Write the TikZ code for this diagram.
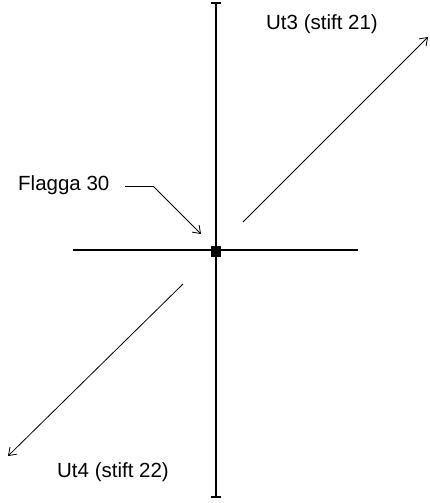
\documentclass[tikz,border=0pt]{standalone}
\usepackage{fontspec}
\setmainfont{Liberation Sans}
\usetikzlibrary{arrows.meta}
\begin{document}
\begin{tikzpicture}[x=1pt,y=-1pt,
  axis/.style={line width=1.4pt,black},
  arr/.style={line width=0.8pt,-{Straight Barb[length=7pt,width=10pt]}},
  lbl/.style={font=\fontsize{20.5}{23}\selectfont,inner sep=0pt}]
\useasboundingbox (0,0) rectangle (429,503);
\coordinate (top) at (216,3);
\coordinate (bot) at (216,497);
\coordinate (left) at (73,250);
\coordinate (right) at (358,250);
\draw[axis] (top) -- (bot);
\draw[axis] (211,3) -- (221,3);
\draw[axis] (211,497) -- (221,497);
\draw[axis] (left) -- (right);
\node[fill=black,minimum width=10pt,minimum height=11pt,inner sep=0pt] (sq) at (216,251) {};
\node[lbl,anchor=base west] (flag) at (18,190) {Flagga 30};
\coordinate (fk) at (153,186);
\coordinate (ftip) at (201,234);
\draw[line width=0.8pt] (125,186) -- (fk);
\draw[arr] (fk) -- (ftip);
\coordinate (a3s) at (243,222);
\coordinate (a3e) at (428,37);
\draw[arr] (a3s) -- (a3e);
\node[lbl,anchor=base] (ut3) at (322,30) {Ut3 (stift 21)};
\coordinate (a4s) at (183,284);
\coordinate (a4e) at (8,456);
\draw[arr] (a4s) -- (a4e);
\node[lbl,anchor=base] (ut4) at (113,477) {Ut4 (stift 22)};
\end{tikzpicture}
\end{document}
